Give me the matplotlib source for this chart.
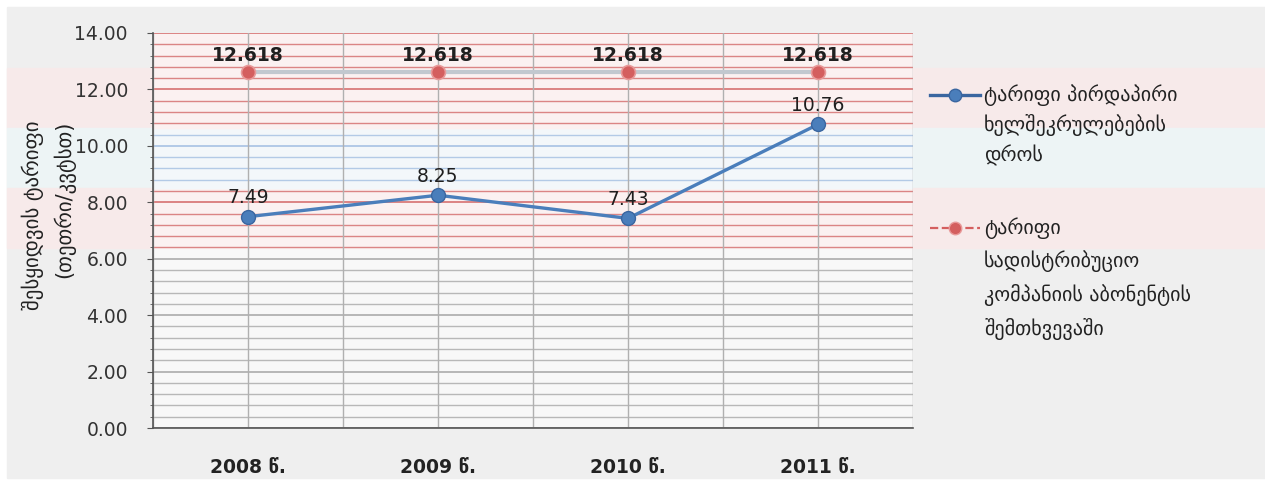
import numpy as np
import matplotlib
matplotlib.use("Agg")
import matplotlib.pyplot as plt
from matplotlib.lines import Line2D
from matplotlib.patches import Rectangle

plt.rcParams['font.family'] = ['DejaVu Sans']

years = ["2008 წ.", "2009 წ.", "2010 წ.", "2011 წ."]
direct_tariff = [7.49, 8.25, 7.43, 10.76]
distrib_tariff = [12.618, 12.618, 12.618, 12.618]
direct_labels = ["7.49", "8.25", "7.43", "10.76"]
distrib_labels = ["12.618", "12.618", "12.618", "12.618"]
series_names = [["ტარიფი პირდაპირი", "ხელშეკრულებების", "დროს"],
                ["ტარიფი", "სადისტრიბუციო", "კომპანიის აბონენტის", "შემთხვევაში"]]
y_label = "შესყიდვის ტარიფი\n(თეთრი/კვტსთ)"

W, H = 1265, 484
fig = plt.figure(figsize=(W / 100, H / 100), dpi=100)
fig.patch.set_facecolor("white")

def fy(px):
    return 1 - px / H

def fx(px):
    return px / W

# chart area background and colour bands
bg = Rectangle((fx(7), fy(478)), 1 - fx(7), fy(7) - fy(478),
               transform=fig.transFigure, color="#efefef", zorder=-3)
fig.add_artist(bg)
for top, bot, col in [(68, 128, "#f7eaea"), (128, 188, "#edf4f5"), (188, 248, "#f7eaea")]:
    fig.add_artist(Rectangle((fx(7), fy(bot)), 1 - fx(7), fy(top) - fy(bot),
                             transform=fig.transFigure, color=col, zorder=-2))

ax = fig.add_axes([fx(153), fy(428), fx(913 - 153), fy(33) - fy(428)])
ax.set_zorder(1)
ax.set_facecolor("none")
ax.set_ylim(0, 14)
ax.set_xlim(-0.5, 3.5)

# tinted plot area
b1, b2, b3 = 6.38, 8.51, 10.63
ax.axhspan(0, b1, color="#f8f8f8", zorder=0)
ax.axhspan(b1, b2, color="#fbf1f1", zorder=0)
ax.axhspan(b2, b3, color="#f3f7fa", zorder=0)
ax.axhspan(b3, 14, color="#fbf1f1", zorder=0)

# horizontal gridlines (major 2, minor 0.4)
for g in np.arange(0, 14.001, 0.4):
    if g > b3 or (b1 < g < b2):
        c = "#d46a6a"
    elif b2 <= g <= b3:
        c = "#a3bfe2"
    else:
        c = "#a8a8a8"
    major = abs(g / 2 - round(g / 2)) < 1e-6
    ax.axhline(g, color=c, lw=1.2 if major else 1.0, alpha=0.95 if major else 0.8, zorder=1)

# vertical gridlines
for v in np.arange(-0.5, 3.51, 0.5):
    ax.axvline(v, color="#b0b0b0", lw=1.0, zorder=1)

# series
ax.plot(years, distrib_tariff, color="#c2c8cf", lw=3.0, zorder=3)
ax.plot(years, distrib_tariff, linestyle="none", marker="o", markersize=10,
        markerfacecolor="#d45f5f", markeredgecolor="#e89a9a", markeredgewidth=1.2, zorder=4)
ax.plot(years, direct_tariff, color="#4a7ebb", lw=2.4, marker="o", markersize=10,
        markerfacecolor="#4a7ebb", markeredgecolor="#3a66a0", markeredgewidth=1.0, zorder=5)

for i, (v, t) in enumerate(zip(distrib_tariff, distrib_labels)):
    ax.annotate(t, (i, v), xytext=(0, 5), textcoords="offset points", ha="center",
                va="bottom", fontsize=13.5, fontweight="bold", color="#1f1f1f", zorder=6)
for i, (v, t) in enumerate(zip(direct_tariff, direct_labels)):
    ax.annotate(t, (i, v), xytext=(0, 7), textcoords="offset points", ha="center",
                va="bottom", fontsize=13.5, color="#1f1f1f", zorder=6)

ax.set_yticks(np.arange(0, 14.01, 2))
ax.set_yticklabels([f"{t:.2f}" for t in np.arange(0, 14.01, 2)])
ax.set_yticks(np.arange(0, 14.01, 0.4), minor=True)
ax.tick_params(axis="y", which="major", labelsize=13.5, labelcolor="#333333", length=4,
               color="#555555", pad=14)
ax.tick_params(axis="y", which="minor", length=2, color="#555555")
ax.tick_params(axis="x", labelsize=13.5, labelcolor="#222222", length=0, pad=22)
for lbl in ax.get_xticklabels():
    lbl.set_fontweight("bold")

for s in ["top", "right"]:
    ax.spines[s].set_visible(False)
ax.spines["left"].set_color("#555555")
ax.spines["bottom"].set_color("#555555")
ax.spines["left"].set_linewidth(1.2)
ax.spines["bottom"].set_linewidth(1.2)

fig.text(fx(48), fy(121), y_label, rotation=90, ha="center", va="top",
         multialignment="right", fontsize=15, color="#222222", linespacing=1.5)

# legend (drawn manually to match the multi-line layout)
leg_handles = [
    dict(color="#3a66a0", lw=2.4, ls="-", mfc="#4a7ebb", mec="#3a66a0"),
    dict(color="#d45f5f", lw=1.6, ls="--", mfc="#d45f5f", mec="#e89a9a"),
]
entry_y = [95, 228]
line_step = [30, 33.5]
for lines, h, y0, step in zip(series_names, leg_handles, entry_y, line_step):
    fig.add_artist(Line2D([fx(930), fx(980)], [fy(y0), fy(y0)], transform=fig.transFigure,
                          color=h["color"], lw=h["lw"], linestyle=h["ls"]))
    fig.add_artist(Line2D([fx(955)], [fy(y0)], transform=fig.transFigure, marker="o",
                          markersize=9, markerfacecolor=h["mfc"], markeredgecolor=h["mec"],
                          linestyle="none"))
    for k, txt in enumerate(lines):
        fig.text(fx(984), fy(y0 + k * step), txt, ha="left", va="center",
                 fontsize=14.5, color="#222222")

fig.savefig("out.png", dpi=100, facecolor=fig.get_facecolor())
